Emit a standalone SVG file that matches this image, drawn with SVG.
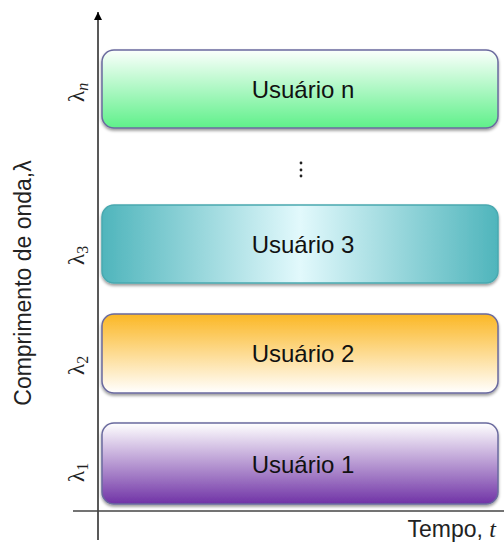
<svg xmlns="http://www.w3.org/2000/svg" width="504" height="543" viewBox="0 0 504 543">
<defs>
<linearGradient id="gN" x1="0" y1="0" x2="0" y2="1"><stop offset="0" stop-color="#fbfffc"/><stop offset="1" stop-color="#5ff08a"/></linearGradient>
<linearGradient id="g3" x1="0" y1="0" x2="1" y2="0"><stop offset="0" stop-color="#4fb5bc"/><stop offset="0.5" stop-color="#e2f9fc"/><stop offset="1" stop-color="#4fb5bc"/></linearGradient>
<linearGradient id="g2" x1="0" y1="0" x2="0" y2="1"><stop offset="0" stop-color="#fbb724"/><stop offset="1" stop-color="#ffffff"/></linearGradient>
<linearGradient id="g1" x1="0" y1="0" x2="0" y2="1"><stop offset="0" stop-color="#ffffff"/><stop offset="1" stop-color="#7033a6"/></linearGradient>
<filter id="sh" x="-5%" y="-10%" width="110%" height="130%"><feDropShadow dx="0" dy="2" stdDeviation="1.5" flood-color="#000" flood-opacity="0.4"/></filter>
<marker id="arr" viewBox="0 0 10 10" refX="10" refY="5" markerWidth="8" markerHeight="8" markerUnits="userSpaceOnUse" orient="auto"><path d="M0,0 L10,5 L0,10 Z" fill="#000"/></marker>
</defs>
<style>
.box{stroke:#6a6a9e;stroke-width:1.5;filter:url(#sh)}
.lbl{font-family:"Liberation Sans",Arial,sans-serif;font-size:24px;fill:#111;text-anchor:middle}
.lam{font-family:"Liberation Serif","Times New Roman",serif;font-size:23px;fill:#222}
.ax{font-family:"Liberation Sans",Arial,sans-serif;font-size:23px;fill:#222}
</style>
<g id="connectors">
<line x1="98" y1="540" x2="98" y2="12" stroke="#222" stroke-width="1.5" marker-end="url(#arr)"/>
<line x1="73" y1="511" x2="504" y2="511" stroke="#444" stroke-width="1.5"/>
</g>
<g id="userN"><rect class="box" x="102" y="50" width="396" height="78" rx="12" fill="url(#gN)"/><text class="lbl" x="303" y="98">Usuário n</text></g>
<g id="dots"><circle cx="301" cy="163" r="1.4" fill="#222"/><circle cx="301" cy="170" r="1.4" fill="#222"/><circle cx="301" cy="176" r="1.4" fill="#222"/></g>
<g id="user3"><rect class="box" x="102" y="205" width="396" height="78" rx="12" fill="url(#g3)" style="stroke:#4aa9b0"/><text class="lbl" x="303" y="253">Usuário 3</text></g>
<g id="user2"><rect class="box" x="102" y="314" width="396" height="79" rx="12" fill="url(#g2)"/><text class="lbl" x="303" y="362">Usuário 2</text></g>
<g id="user1"><rect class="box" x="102" y="423" width="396" height="81" rx="12" fill="url(#g1)"/><text class="lbl" x="303" y="473">Usuário 1</text></g>
<g id="lambdas">
<text class="lam" transform="translate(84,102) rotate(-90)">λ<tspan font-size="16" font-style="italic" dy="4">n</tspan></text>
<text class="lam" transform="translate(84,265) rotate(-90)">λ<tspan font-size="16" dy="4">3</tspan></text>
<text class="lam" transform="translate(84,375) rotate(-90)">λ<tspan font-size="16" dy="4">2</tspan></text>
<text class="lam" transform="translate(84,482) rotate(-90)">λ<tspan font-size="16" dy="4">1</tspan></text>
</g>
<g id="axis-labels">
<text class="ax" text-anchor="middle" transform="translate(31,283) rotate(-90)">Comprimento de onda,λ</text>
<text class="ax" text-anchor="end" x="496" y="537" font-size="22">Tempo, <tspan font-family="Liberation Serif,serif" font-style="italic" font-size="24">t</tspan></text>
</g>
</svg>
